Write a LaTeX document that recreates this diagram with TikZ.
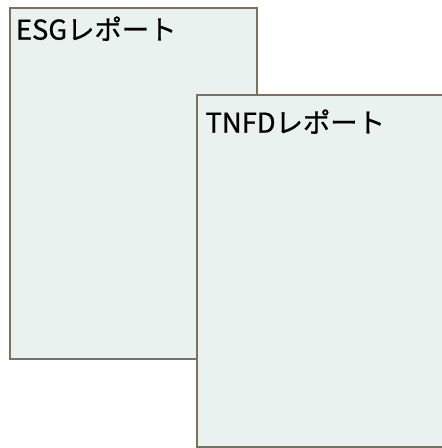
\documentclass[tikz,border=0pt]{standalone}
\usepackage{fontspec}
\newfontfamily\jpfont{Noto Sans CJK JP}[FakeBold=0.8]
\usetikzlibrary{positioning}

\definecolor{reportfill}{HTML}{E9F2EF}
\definecolor{reportline}{HTML}{7D705F}

\begin{document}
\begin{tikzpicture}[
    x=0.75pt, y=-0.75pt,
    report/.style={draw=reportline, line width=1.5pt, fill=reportfill, inner sep=0pt},
    title/.style={font=\jpfont\fontsize{20.5}{24}\selectfont, anchor=base west, inner sep=0pt},
]
\useasboundingbox (0,0) rectangle (441,448);
% ESG report sheet (behind)
\node[report, minimum width=185.25pt, minimum height=263.25pt] (esg) at (133.5,183.5) {};
\node[title, below right=24.5pt and 5pt of esg.north west, anchor=base west] (esgtitle) {ESGレポート};

% TNFD report sheet (front)
\node[report, minimum width=198.75pt, minimum height=264pt] (tnfd) at (329.5,271) {};
\node[title, below right=29pt and 7pt of tnfd.north west, anchor=base west] (tnfdtitle) {TNFDレポート};
\end{tikzpicture}
\end{document}
